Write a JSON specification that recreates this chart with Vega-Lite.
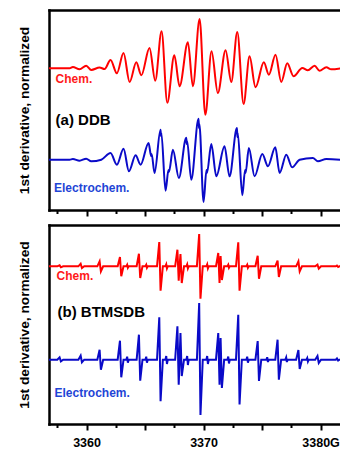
{
"$schema": "https://vega.github.io/schema/vega-lite/v6.json",
"padding": {"left": 17, "top": 10, "right": 0, "bottom": 0},
"spacing": 8,
"config": {"view": {"stroke": null}, "font": "Liberation Sans"},
"datasets": {
"topChem": [{"B":3356.75,"dI":141.7},{"B":3358.55,"dI":141.7},{"B":3358.83,"dI":143},{"B":3359.40,"dI":140.7},{"B":3359.97,"dI":144.3},{"B":3360.40,"dI":140},{"B":3361.11,"dI":142.5},{"B":3361.54,"dI":141},{"B":3362.05,"dI":150},{"B":3362.59,"dI":136.7},{"B":3363.16,"dI":157},{"B":3363.68,"dI":128},{"B":3364.25,"dI":147.7},{"B":3364.68,"dI":134.7},{"B":3365.38,"dI":162},{"B":3365.87,"dI":129.3},{"B":3366.41,"dI":178.7},{"B":3366.90,"dI":107.3},{"B":3367.50,"dI":154.7},{"B":3367.95,"dI":123.7},{"B":3368.66,"dI":167.7},{"B":3369.09,"dI":123.7},{"B":3369.66,"dI":191},{"B":3370.15,"dI":95.3},{"B":3370.68,"dI":158.7},{"B":3371.22,"dI":117},{"B":3371.88,"dI":159.7},{"B":3372.37,"dI":128},{"B":3372.88,"dI":178},{"B":3373.42,"dI":106},{"B":3373.93,"dI":153.7},{"B":3374.44,"dI":122.7},{"B":3375.15,"dI":147.7},{"B":3375.58,"dI":135.3},{"B":3376.15,"dI":155.3},{"B":3376.64,"dI":128},{"B":3377.15,"dI":146.7},{"B":3377.69,"dI":133.7},{"B":3378.44,"dI":142},{"B":3378.91,"dI":139.7},{"B":3379.49,"dI":144.3},{"B":3379.91,"dI":139.3},{"B":3380.49,"dI":142.7},{"B":3380.91,"dI":140.7},{"B":3381.71,"dI":141.7}],
"topElec": [{"B":3356.75,"dI":50.3},{"B":3358.55,"dI":50.3},{"B":3358.83,"dI":51},{"B":3359.40,"dI":49.3},{"B":3359.97,"dI":51.3},{"B":3360.40,"dI":48.7},{"B":3361.26,"dI":50.3},{"B":3362.05,"dI":57},{"B":3362.59,"dI":45.3},{"B":3363.16,"dI":61.3},{"B":3363.62,"dI":38.7},{"B":3364.19,"dI":54.7},{"B":3364.62,"dI":45.3},{"B":3365.30,"dI":67},{"B":3365.52,"dI":54},{"B":3365.56,"dI":56},{"B":3365.81,"dI":37},{"B":3366.32,"dI":80.3},{"B":3366.36,"dI":74},{"B":3366.39,"dI":77},{"B":3366.75,"dI":19.3},{"B":3367.00,"dI":40},{"B":3367.04,"dI":38},{"B":3367.38,"dI":60.3},{"B":3367.89,"dI":32},{"B":3368.52,"dI":72.3},{"B":3368.56,"dI":66},{"B":3368.59,"dI":69},{"B":3368.95,"dI":30.3},{"B":3369.57,"dI":91.3},{"B":3369.61,"dI":82},{"B":3369.64,"dI":86},{"B":3370.00,"dI":8},{"B":3370.25,"dI":40},{"B":3370.29,"dI":37},{"B":3370.66,"dI":66},{"B":3371.09,"dI":33.7},{"B":3371.79,"dI":63.7},{"B":3372.22,"dI":33.7},{"B":3372.85,"dI":82},{"B":3372.89,"dI":73},{"B":3372.92,"dI":77},{"B":3373.31,"dI":14.7},{"B":3373.55,"dI":40},{"B":3373.59,"dI":37},{"B":3373.87,"dI":62},{"B":3374.36,"dI":33.7},{"B":3375.02,"dI":56},{"B":3375.50,"dI":43.7},{"B":3376.13,"dI":62.7},{"B":3376.50,"dI":37},{"B":3377.07,"dI":55.3},{"B":3377.57,"dI":42.7},{"B":3378.21,"dI":50.3},{"B":3379.34,"dI":52},{"B":3379.77,"dI":48.7},{"B":3380.49,"dI":51},{"B":3381.71,"dI":50.3}],
"botChem": [{"B":3356.75,"dI":157.7},{"B":3357.50,"dI":157.7},{"B":3357.695,"dI":158.7},{"B":3357.805,"dI":156.7},{"B":3358.00,"dI":157.7},{"B":3359.30,"dI":157.7},{"B":3359.495,"dI":160.3},{"B":3359.605,"dI":156},{"B":3359.80,"dI":157.7},{"B":3360.92,"dI":157.7},{"B":3361.115,"dI":162.7},{"B":3361.225,"dI":152.7},{"B":3361.42,"dI":157.7},{"B":3362.66,"dI":157.7},{"B":3362.855,"dI":167},{"B":3362.965,"dI":147.7},{"B":3363.16,"dI":157.7},{"B":3363.40,"dI":157.7},{"B":3363.47,"dI":159.2},{"B":3363.53,"dI":156.2},{"B":3363.60,"dI":157.7},{"B":3364.28,"dI":157.7},{"B":3364.475,"dI":170.3},{"B":3364.585,"dI":146},{"B":3364.78,"dI":157.7},{"B":3365.03,"dI":157.7},{"B":3365.10,"dI":159.2},{"B":3365.16,"dI":156.2},{"B":3365.23,"dI":157.7},{"B":3366.02,"dI":157.7},{"B":3366.215,"dI":182},{"B":3366.325,"dI":133.3},{"B":3366.52,"dI":157.7},{"B":3366.74,"dI":157.7},{"B":3366.81,"dI":159.7},{"B":3366.87,"dI":155.7},{"B":3366.94,"dI":157.7},{"B":3367.57,"dI":157.7},{"B":3367.765,"dI":174.3},{"B":3367.875,"dI":143.3},{"B":3367.95,"dI":157.7},{"B":3368.025,"dI":170},{"B":3368.135,"dI":141},{"B":3368.33,"dI":157.7},{"B":3368.53,"dI":157.7},{"B":3368.60,"dI":159.7},{"B":3368.66,"dI":155.7},{"B":3368.73,"dI":157.7},{"B":3369.43,"dI":157.7},{"B":3369.625,"dI":190},{"B":3369.735,"dI":125.3},{"B":3369.93,"dI":157.7},{"B":3370.24,"dI":157.7},{"B":3370.31,"dI":159.7},{"B":3370.37,"dI":155.7},{"B":3370.44,"dI":157.7},{"B":3371.06,"dI":157.7},{"B":3371.255,"dI":171},{"B":3371.365,"dI":141},{"B":3371.41,"dI":157.7},{"B":3371.455,"dI":168},{"B":3371.565,"dI":144},{"B":3371.76,"dI":157.7},{"B":3372.04,"dI":157.7},{"B":3372.11,"dI":159.2},{"B":3372.17,"dI":156.2},{"B":3372.24,"dI":157.7},{"B":3372.77,"dI":157.7},{"B":3372.965,"dI":181.7},{"B":3373.075,"dI":133.3},{"B":3373.27,"dI":157.7},{"B":3373.66,"dI":157.7},{"B":3373.73,"dI":159.2},{"B":3373.79,"dI":156.2},{"B":3373.86,"dI":157.7},{"B":3374.43,"dI":157.7},{"B":3374.625,"dI":168.3},{"B":3374.735,"dI":145.3},{"B":3374.93,"dI":157.7},{"B":3376.13,"dI":157.7},{"B":3376.325,"dI":163.3},{"B":3376.435,"dI":147},{"B":3376.63,"dI":157.7},{"B":3377.91,"dI":157.7},{"B":3378.105,"dI":162.7},{"B":3378.215,"dI":152.7},{"B":3378.41,"dI":157.7},{"B":3379.54,"dI":157.7},{"B":3379.735,"dI":159.3},{"B":3379.845,"dI":155.3},{"B":3380.04,"dI":157.7},{"B":3381.30,"dI":157.7},{"B":3381.40,"dI":158.5},{"B":3381.50,"dI":157},{"B":3381.60,"dI":157.7},{"B":3381.71,"dI":157.7}],
"botElec": [{"B":3356.75,"dI":64.3},{"B":3357.50,"dI":64.3},{"B":3357.695,"dI":66.7},{"B":3357.805,"dI":62.7},{"B":3358.00,"dI":64.3},{"B":3359.30,"dI":64.3},{"B":3359.495,"dI":68.3},{"B":3359.605,"dI":61.7},{"B":3359.80,"dI":64.3},{"B":3360.92,"dI":64.3},{"B":3361.115,"dI":74.3},{"B":3361.225,"dI":54.3},{"B":3361.42,"dI":64.3},{"B":3362.66,"dI":64.3},{"B":3362.855,"dI":83.3},{"B":3362.965,"dI":46.7},{"B":3363.16,"dI":64.3},{"B":3363.40,"dI":64.3},{"B":3363.47,"dI":67.3},{"B":3363.53,"dI":61.3},{"B":3363.60,"dI":64.3},{"B":3364.28,"dI":64.3},{"B":3364.475,"dI":89.3},{"B":3364.585,"dI":43.3},{"B":3364.78,"dI":64.3},{"B":3365.03,"dI":64.3},{"B":3365.10,"dI":67.3},{"B":3365.16,"dI":61.3},{"B":3365.23,"dI":64.3},{"B":3366.02,"dI":64.3},{"B":3366.215,"dI":106.7},{"B":3366.325,"dI":22.7},{"B":3366.52,"dI":64.3},{"B":3366.74,"dI":64.3},{"B":3366.81,"dI":68},{"B":3366.87,"dI":60},{"B":3366.94,"dI":64.3},{"B":3367.57,"dI":64.3},{"B":3367.765,"dI":97.7},{"B":3367.875,"dI":39.3},{"B":3367.95,"dI":64.3},{"B":3368.025,"dI":91},{"B":3368.135,"dI":48},{"B":3368.33,"dI":64.3},{"B":3368.53,"dI":64.3},{"B":3368.60,"dI":68},{"B":3368.66,"dI":59},{"B":3368.73,"dI":64.3},{"B":3369.43,"dI":64.3},{"B":3369.625,"dI":121},{"B":3369.735,"dI":9},{"B":3369.93,"dI":64.3},{"B":3370.24,"dI":64.3},{"B":3370.31,"dI":68},{"B":3370.37,"dI":60},{"B":3370.44,"dI":64.3},{"B":3371.06,"dI":64.3},{"B":3371.255,"dI":91},{"B":3371.365,"dI":39.3},{"B":3371.41,"dI":64.3},{"B":3371.455,"dI":86},{"B":3371.565,"dI":36},{"B":3371.76,"dI":64.3},{"B":3372.04,"dI":64.3},{"B":3372.11,"dI":67.5},{"B":3372.17,"dI":60.5},{"B":3372.24,"dI":64.3},{"B":3372.77,"dI":64.3},{"B":3372.965,"dI":109.3},{"B":3373.075,"dI":19.5},{"B":3373.27,"dI":64.3},{"B":3373.66,"dI":64.3},{"B":3373.73,"dI":67.3},{"B":3373.79,"dI":61.3},{"B":3373.86,"dI":64.3},{"B":3374.43,"dI":64.3},{"B":3374.625,"dI":83},{"B":3374.735,"dI":43},{"B":3374.93,"dI":64.3},{"B":3375.37,"dI":64.3},{"B":3375.44,"dI":66.8},{"B":3375.50,"dI":62},{"B":3375.57,"dI":64.3},{"B":3376.13,"dI":64.3},{"B":3376.325,"dI":84.3},{"B":3376.435,"dI":44.3},{"B":3376.63,"dI":64.3},{"B":3376.99,"dI":64.3},{"B":3377.06,"dI":66.5},{"B":3377.12,"dI":62},{"B":3377.19,"dI":64.3},{"B":3377.91,"dI":64.3},{"B":3378.105,"dI":74},{"B":3378.215,"dI":55},{"B":3378.41,"dI":64.3},{"B":3378.79,"dI":64.3},{"B":3378.86,"dI":66},{"B":3378.92,"dI":62.5},{"B":3378.99,"dI":64.3},{"B":3379.54,"dI":64.3},{"B":3379.735,"dI":68},{"B":3379.845,"dI":61},{"B":3380.04,"dI":64.3},{"B":3381.30,"dI":64.3},{"B":3381.40,"dI":65.5},{"B":3381.50,"dI":63.5},{"B":3381.60,"dI":64.3},{"B":3381.71,"dI":64.3}]
},
"vconcat": [
{
"width": 291, "height": 200,
"encoding": {
  "y": {"field": "dI", "type": "quantitative", "scale": {"domain": [0, 200], "nice": false, "zero": false},
   "axis": {"orient": "left", "title": "1st derivative, normalized", "labels": false, "ticks": false, "grid": false, "domainColor": "#000000", "domainWidth": 2.5, "domainCap": "square", "titleFont": "Liberation Sans", "titleFontSize": 13.7, "titleFontWeight": "bold", "titleColor": "#000000", "titlePadding": 18}}
},
"resolve": {"axis": {"x": "independent"}},
"layer": [
{"data": {"name": "topChem"}, "mark": {"type": "line", "color": "#ff0000", "strokeWidth": 2, "interpolate": "monotone", "clip": true},
 "encoding": {
  "x": {"field": "B", "type": "quantitative", "scale": {"domain": [3356.79, 3381.66], "nice": false, "zero": false},
   "axis": {"orient": "bottom", "title": null, "values": [3357.5,3360,3362.5,3365,3367.5,3370,3372.5,3375,3377.5,3380], "labels": false, "ticks": true, "tickSize": {"condition": {"test": "datum.value % 5 == 0", "value": 6}, "value": 3.5}, "tickWidth": 2, "tickColor": "#000000", "domainColor": "#000000", "domainWidth": 2.5, "domainCap": "square", "grid": false}}
 }},
{"data": {"name": "topElec"}, "mark": {"type": "line", "color": "#0a0ac8", "strokeWidth": 2, "interpolate": "monotone", "clip": true},
 "encoding": {
  "x": {"field": "B", "type": "quantitative", "axis": {"orient": "top", "title": null, "labels": false, "ticks": false, "grid": false, "domainColor": "#000000", "domainWidth": 2.5, "domainCap": "square"}}
 }},
{"data": {"values": [{"B": 3357.35, "dI": 131, "label": "Chem."}]}, "mark": {"type": "text", "align": "left", "baseline": "middle", "font": "Liberation Sans", "fontWeight": "bold", "fontSize": 12, "color": "#ff1a1a"},
 "encoding": {"x": {"field": "B", "type": "quantitative", "axis": null}, "text": {"field": "label"}}},
{"data": {"values": [{"B": 3357.35, "dI": 90.5, "label": "(a) DDB"}]}, "mark": {"type": "text", "align": "left", "baseline": "middle", "font": "Liberation Sans", "fontWeight": "bold", "fontSize": 15, "color": "#000000"},
 "encoding": {"x": {"field": "B", "type": "quantitative", "axis": null}, "text": {"field": "label"}}},
{"data": {"values": [{"B": 3357.22, "dI": 22.5, "label": "Electrochem."}]}, "mark": {"type": "text", "align": "left", "baseline": "middle", "font": "Liberation Sans", "fontWeight": "bold", "fontSize": 12, "color": "#1f45d6"},
 "encoding": {"x": {"field": "B", "type": "quantitative", "axis": null}, "text": {"field": "label"}}}
]
},
{
"width": 291, "height": 199,
"encoding": {
  "y": {"field": "dI", "type": "quantitative", "scale": {"domain": [0, 199], "nice": false, "zero": false},
   "axis": {"orient": "left", "title": "1st derivative, normalized", "labels": false, "ticks": false, "grid": false, "domainColor": "#000000", "domainWidth": 2.5, "domainCap": "square", "titleFont": "Liberation Sans", "titleFontSize": 13.7, "titleFontWeight": "bold", "titleColor": "#000000", "titlePadding": 18}}
},
"resolve": {"axis": {"x": "independent"}},
"layer": [
{"data": {"name": "botChem"}, "mark": {"type": "line", "color": "#ff0000", "strokeWidth": 2, "interpolate": "linear", "clip": true},
 "encoding": {
  "x": {"field": "B", "type": "quantitative", "scale": {"domain": [3356.79, 3381.66], "nice": false, "zero": false},
   "axis": {"orient": "bottom", "title": null, "values": [3357.5,3360,3362.5,3365,3367.5,3370,3372.5,3375,3377.5,3380], "format": "d", "labelExpr": "datum.value == 3360 || datum.value == 3370 ? datum.label : (datum.value == 3380 ? '3380G' : '')", "labelFont": "Liberation Sans", "labelFontWeight": "bold", "labelFontSize": 12.5, "labelColor": "#000000", "labelPadding": 6, "labelOverlap": false, "labelFlush": false, "ticks": true, "tickSize": {"condition": {"test": "datum.value % 5 == 0", "value": 6}, "value": 3.5}, "tickWidth": 2, "tickColor": "#000000", "domainColor": "#000000", "domainWidth": 2.5, "domainCap": "square", "grid": false}}
 }},
{"data": {"name": "botElec"}, "mark": {"type": "line", "color": "#0a0ac8", "strokeWidth": 2, "interpolate": "linear", "clip": true},
 "encoding": {
  "x": {"field": "B", "type": "quantitative", "axis": {"orient": "top", "title": null, "labels": false, "ticks": false, "grid": false, "domainColor": "#000000", "domainWidth": 2.5, "domainCap": "square"}}
 }},
{"data": {"values": [{"B": 3357.44, "dI": 148.5, "label": "Chem."}]}, "mark": {"type": "text", "align": "left", "baseline": "middle", "font": "Liberation Sans", "fontWeight": "bold", "fontSize": 12, "color": "#ff1a1a"},
 "encoding": {"x": {"field": "B", "type": "quantitative", "axis": null}, "text": {"field": "label"}}},
{"data": {"values": [{"B": 3357.52, "dI": 112, "label": "(b) BTMSDB"}]}, "mark": {"type": "text", "align": "left", "baseline": "middle", "font": "Liberation Sans", "fontWeight": "bold", "fontSize": 15, "color": "#000000"},
 "encoding": {"x": {"field": "B", "type": "quantitative", "axis": null}, "text": {"field": "label"}}},
{"data": {"values": [{"B": 3357.26, "dI": 31, "label": "Electrochem."}]}, "mark": {"type": "text", "align": "left", "baseline": "middle", "font": "Liberation Sans", "fontWeight": "bold", "fontSize": 12, "color": "#1f45d6"},
 "encoding": {"x": {"field": "B", "type": "quantitative", "axis": null}, "text": {"field": "label"}}}
]
}
]
}
